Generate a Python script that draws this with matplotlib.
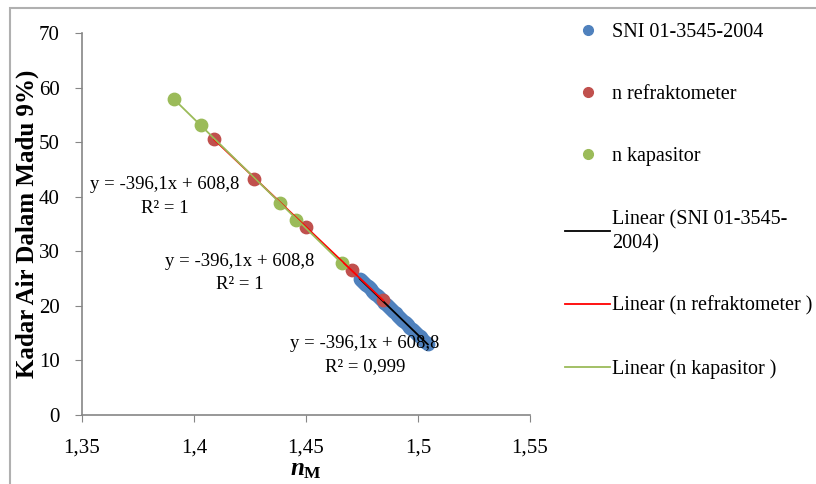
import matplotlib
matplotlib.use("Agg")
import matplotlib.pyplot as plt
import numpy as np
from matplotlib.lines import Line2D
from matplotlib.patches import Rectangle

plt.rcParams['font.family'] = ['Liberation Serif', 'DejaVu Serif']
plt.rcParams['mathtext.fontset'] = 'custom'
plt.rcParams['mathtext.it'] = 'Liberation Serif:italic:bold'
plt.rcParams['mathtext.rm'] = 'Liberation Serif:bold'

# SNI 01-3545-2004 table (refractive index vs water content)
sni_n = [1.5044, 1.5038, 1.5033, 1.5028, 1.5023, 1.5018, 1.5012, 1.5007, 1.5002, 1.4997,
         1.4992, 1.4987, 1.4982, 1.4976, 1.4971, 1.4966, 1.4961, 1.4956, 1.4951, 1.4946,
         1.4940, 1.4935, 1.4930, 1.4925, 1.4920, 1.4915, 1.4910, 1.4905, 1.4900, 1.4895,
         1.4890, 1.4885, 1.4880, 1.4875, 1.4870, 1.4865, 1.4860, 1.4855, 1.4850, 1.4845,
         1.4840, 1.4835, 1.4830, 1.4825, 1.4820, 1.4815, 1.4810, 1.4805, 1.4800, 1.4795,
         1.4790, 1.4785, 1.4780, 1.4775, 1.4770, 1.4765, 1.4760, 1.4755, 1.4750, 1.4745,
         1.4740]
sni_w = [13.0, 13.2, 13.4, 13.6, 13.8, 14.0, 14.2, 14.4, 14.6, 14.8,
         15.0, 15.2, 15.4, 15.6, 15.8, 16.0, 16.2, 16.4, 16.6, 16.8,
         17.0, 17.2, 17.4, 17.6, 17.8, 18.0, 18.2, 18.4, 18.6, 18.8,
         19.0, 19.2, 19.4, 19.6, 19.8, 20.0, 20.2, 20.4, 20.6, 20.8,
         21.0, 21.2, 21.4, 21.6, 21.8, 22.0, 22.2, 22.4, 22.6, 22.8,
         23.0, 23.2, 23.4, 23.6, 23.8, 24.0, 24.2, 24.4, 24.6, 24.8,
         25.0]

refr_n = [1.409, 1.427, 1.450, 1.4705, 1.4845]
refr_w = [50.6, 43.3, 34.4, 26.5, 21.0]

kap_n = [1.391, 1.403, 1.4385, 1.4455, 1.466]
kap_w = [57.9, 53.1, 38.9, 35.8, 27.9]

xticks = [1.35, 1.40, 1.45, 1.50, 1.55]
xtick_labels = ['1,35', '1,4', '1,45', '1,5', '1,55']
yticks = [0, 10, 20, 30, 40, 50, 60, 70]

eq_labels = ['y = -396,1x + 608,8\nR² = 1',
             'y = -396,1x + 608,8\nR² = 1',
             'y = -396,1x + 608,8\nR² = 0,999']

blue, red, green = '#4F81BD', '#C0504D', '#9BBB59'

fig = plt.figure(figsize=(8.16, 4.84), dpi=100)
fig.patches.append(Rectangle((10 / 816, -0.1), 1.2, 1 - 8 / 484 + 0.1,
                             transform=fig.transFigure, fill=False,
                             edgecolor='#b0b0b0', lw=1.5))
ax = fig.add_axes([0.1005, 0.1426, 0.549, 0.7892])

ms = 80
ax.scatter(sni_n, sni_w, s=ms, color=blue, zorder=2)
ax.scatter(refr_n, refr_w, s=ms, color=red, zorder=2)
ax.scatter(kap_n, kap_w, s=ms, color=green, zorder=2)

for xs, ys, c in [(sni_n, sni_w, 'black'), (refr_n, refr_w, '#FF0000'), (kap_n, kap_w, green)]:
    k, b = np.polyfit(xs, ys, 1)
    xr = np.array([min(xs), max(xs)])
    ax.plot(xr, k * xr + b, color=c, lw=1.3, zorder=3)

fs = 13.5
ax.text(1.387, 40.0, eq_labels[0], ha='center', va='center', fontsize=fs, linespacing=1.5)
ax.text(1.4205, 26.0, eq_labels[1], ha='center', va='center', fontsize=fs, linespacing=1.5)
ax.text(1.4763, 11.0, eq_labels[2], ha='center', va='center', fontsize=fs, linespacing=1.5)

ax.set_xlim(1.35, 1.55)
ax.set_ylim(0, 70)
ax.set_xticks(xticks)
ax.set_xticklabels(xtick_labels)
ax.set_yticks(yticks)
ax.tick_params(labelsize=15, direction='out', length=5, color='#868686')
ax.tick_params(axis='x', pad=12)
ax.tick_params(axis='y', pad=11)
for s in ['top', 'right']:
    ax.spines[s].set_visible(False)
for s in ['left', 'bottom']:
    ax.spines[s].set_color('#868686')
    ax.spines[s].set_linewidth(1.2)

ax.set_ylabel('Kadar Air Dalam Madu 9%)', fontsize=18, fontweight='bold', labelpad=0)
ax.set_xlabel(r'$n_\mathrm{M}$', fontsize=18, labelpad=1)

handles = [
    Line2D([], [], ls='none', marker='o', ms=7, color=blue),
    Line2D([], [], ls='none', marker='o', ms=7, color=red),
    Line2D([], [], ls='none', marker='o', ms=7, color=green),
    Line2D([], [], color='black', lw=1.3),
    Line2D([], [], color='#FF0000', lw=1.3),
    Line2D([], [], color=green, lw=1.3),
]
labels = ['SNI 01-3545-2004', 'n refraktometer', 'n kapasitor',
          'Linear (SNI 01-3545-\n2004)', 'Linear (n refraktometer )', 'Linear (n kapasitor )']
leg = fig.legend(handles, labels, loc='upper left', bbox_to_anchor=(0.683, 0.970),
                 frameon=False, fontsize=14.5, labelspacing=2.15, handlelength=2.2,
                 handletextpad=0.1, borderaxespad=0)
for t in leg.get_texts():
    t.set_linespacing(1.35)

fig.savefig('out.png', dpi=100)
